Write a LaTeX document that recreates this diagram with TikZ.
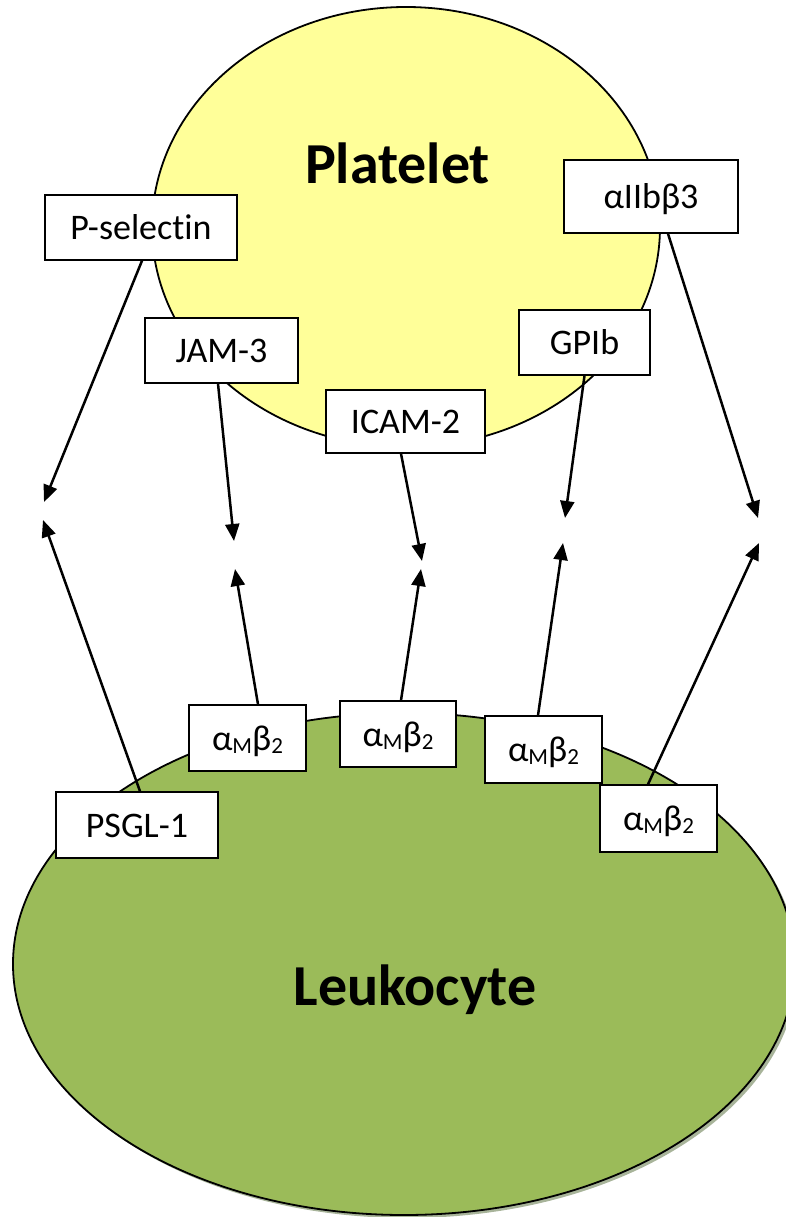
\documentclass[tikz,border=0pt]{standalone}
\usepackage{fontspec}
\setmainfont{Carlito}[Ligatures=NoCommon]
\usetikzlibrary{arrows.meta}
\definecolor{plat}{HTML}{FFFF99}
\definecolor{leuk}{HTML}{9BBB59}
\definecolor{shad}{HTML}{A8B49A}
\newcommand{\subt}[1]{\raisebox{-3pt}{\fontsize{23}{23}\selectfont #1}}
\newcommand{\amb}{α\subt{M}β\subt{2}}
\begin{document}
\begin{tikzpicture}[x=1pt,y=-1pt,
  lbl/.style={draw=black, fill=white, line width=1.4pt, inner sep=0pt,
    font=\fontsize{36}{40}\selectfont, text height=24pt, text depth=0pt},
  arr/.style={line width=2.5pt, -{Triangle[length=17pt,width=14pt]}},
  cell/.style={font=\bfseries\fontsize{58}{60}\selectfont, anchor=base, inner sep=0pt}]
\useasboundingbox (0,0) rectangle (786,1217);
% cells
\fill[plat] (406,227) ellipse [x radius=254pt, y radius=220pt];
\draw[line width=1.8pt] (406,227) ellipse [x radius=254pt, y radius=220pt];
\fill[shad] (407,967) ellipse [x radius=391pt, y radius=251pt];
\fill[leuk] (404,964) ellipse [x radius=391pt, y radius=251pt];
\draw[line width=1.8pt] (404,964) ellipse [x radius=391pt, y radius=251pt];
\node[cell] (platelet) at (397.5,183) {Platelet};
\node[cell] (leukocyte) at (415,1005) {Leukocyte};
% labels
\node[lbl, minimum width=192pt, minimum height=65pt] (psel) at (141,227.5) {P-selectin};
\node[lbl, minimum width=174pt, minimum height=73pt] (aiib) at (651,196.5) {αIIbβ3};
\node[lbl, minimum width=153pt, minimum height=65pt] (jam) at (221.5,350.5) {JAM-3};
\node[lbl, minimum width=131pt, minimum height=65pt] (gpib) at (584.5,342.5) {GPIb};
\node[lbl, minimum width=159pt, minimum height=63pt] (icam) at (405.5,421.5) {ICAM-2};
\node[lbl, minimum width=117pt, minimum height=66pt] (am1) at (247.5,738) {\amb};
\node[lbl, minimum width=116pt, minimum height=66pt] (am2) at (398,734) {\amb};
\node[lbl, minimum width=117pt, minimum height=67pt] (am3) at (543.5,749.5) {\amb};
\node[lbl, minimum width=117pt, minimum height=67pt] (am4) at (658.5,818.5) {\amb};
\node[lbl, minimum width=162pt, minimum height=66pt] (psgl) at (137,825) {PSGL-1};
% arrow tips
\coordinate (t1) at (44,502);
\coordinate (t2) at (43,520);
\coordinate (t3) at (234,541);
\coordinate (t4) at (235,569);
\coordinate (t5) at (422,561);
\coordinate (t6) at (421,569);
\coordinate (t7) at (565,518);
\coordinate (t8) at (563,543);
\coordinate (t9) at (758,518);
\coordinate (t10) at (759,543);
% connectors
\draw[arr] ([xshift=1pt]psel.south) -- (t1);
\draw[arr] ([xshift=3pt]psgl.north) -- (t2);
\draw[arr] ([xshift=-3.5pt]jam.south) -- (t3);
\draw[arr] ([xshift=10.5pt]am1.north) -- (t4);
\draw[arr] ([xshift=-4.5pt]icam.south) -- (t5);
\draw[arr] ([xshift=3pt]am2.north) -- (t6);
\draw[arr] (gpib.south) -- (t7);
\draw[arr] ([xshift=-5.5pt]am3.north) -- (t8);
\draw[arr] ([xshift=17pt]aiib.south) -- (t9);
\draw[arr] ([xshift=-10.5pt]am4.north) -- (t10);
\end{tikzpicture}
\end{document}
